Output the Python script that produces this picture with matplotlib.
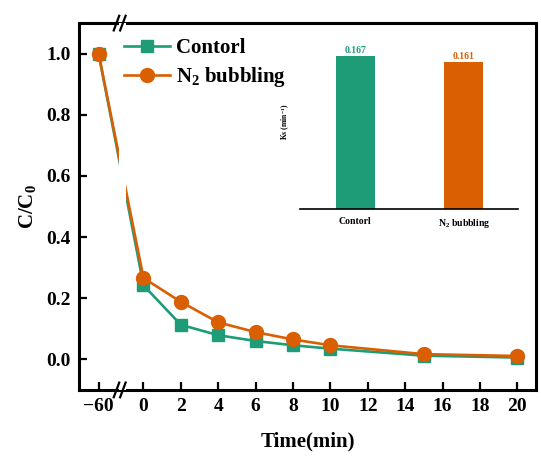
import matplotlib
matplotlib.use("Agg")
import matplotlib.pyplot as plt

# data
time_min = [-60, 0, 2, 4, 6, 8, 10, 15, 20]
control = [1.0, 0.242, 0.113, 0.079, 0.060, 0.046, 0.035, 0.012, 0.006]
n2_bubbling = [1.0, 0.266, 0.188, 0.121, 0.089, 0.065, 0.046, 0.017, 0.011]
x_ticks = [-60, 0, 2, 4, 6, 8, 10, 12, 14, 16, 18, 20]

bar_labels = ["Contorl", "N$_2$ bubbling"]
ks_values = [0.167, 0.161]

GREEN = "#1e9c78"
ORANGE = "#d95f02"
SHIFT = 57.6  # pulls -60 next to 0 (broken axis)


def pos(t):
    return t + SHIFT if t < 0 else t


plt.rcParams["font.family"] = ["Liberation Serif", "DejaVu Serif"]
plt.rcParams["font.weight"] = "bold"
plt.rcParams["mathtext.fontset"] = "custom"
plt.rcParams["mathtext.rm"] = "Liberation Serif:bold"
plt.rcParams["mathtext.it"] = "Liberation Serif:bold"
plt.rcParams["mathtext.bf"] = "Liberation Serif:bold"

fig = plt.figure(figsize=(5.41, 4.62), dpi=100)
ax = fig.add_axes([0.146, 0.156, 0.845, 0.794])

xs = [pos(t) for t in time_min]
ax.plot(xs, control, color=GREEN, lw=1.9, marker="s", ms=9, label="Contorl", zorder=2)
ax.plot(xs, n2_bubbling, color=ORANGE, lw=1.9, marker="o", ms=10, label="N$_2$ bubbling", zorder=2)

# gap in the lines at the break
ax.axvspan(-1.32, -0.95, color="white", zorder=3, lw=0)

ax.set_xlim(-3.45, 21.0)
ax.set_ylim(-0.1, 1.1)
ax.set_xticks([pos(t) for t in x_ticks])
ax.set_xticklabels(["\u221260" if t < 0 else str(t) for t in x_ticks])
ax.set_yticks([0.0, 0.2, 0.4, 0.6, 0.8, 1.0])
ax.set_yticklabels(["0.0", "0.2", "0.4", "0.6", "0.8", "1.0"])
ax.tick_params(direction="in", length=6, width=1.6, labelsize=14, pad=6)
for sp in ax.spines.values():
    sp.set_linewidth(2.2)

# break marks
for xb in (0.082, 0.096):
    for yb in (0.0, 1.0):
        ax.plot([xb - 0.006, xb + 0.006], [yb - 0.02, yb + 0.02], transform=ax.transAxes,
                color="black", lw=1.6, clip_on=False, zorder=5)

ax.set_xlabel("Time(min)", fontsize=15, fontweight="bold", labelpad=12)
ax.set_ylabel("C/C$_0$", fontsize=15, fontweight="bold", labelpad=6)

leg = ax.legend(loc="upper left", bbox_to_anchor=(0.057, 1.01), frameon=False,
                fontsize=15, handlelength=2.2, handletextpad=0.3, labelspacing=0.35)

# inset bar chart
ins = fig.add_axes([0.5545, 0.5476, 0.403, 0.3766])
bars = ins.bar([0, 1], ks_values, width=0.36, color=[GREEN, ORANGE])
for i, v in enumerate(ks_values):
    ins.text(i, v + 0.001, f"{v:.3f}", ha="center", va="bottom", fontsize=7,
             fontweight="bold", color=[GREEN, ORANGE][i])
ins.set_xlim(-0.51, 1.5)
ins.set_ylim(0, 0.19)
ins.set_xticks([0, 1])
ins.set_xticklabels(bar_labels, fontsize=7, fontweight="bold")
ins.set_yticks([])
ins.tick_params(axis="x", length=0, pad=6)
for name in ("top", "right", "left"):
    ins.spines[name].set_visible(False)
ins.spines["bottom"].set_linewidth(1.2)
ins.set_ylabel("Ks (min$^{-1}$)", fontsize=5.5, fontweight="bold", labelpad=6)
ins.patch.set_alpha(0)

fig.savefig("out.png", dpi=100)
